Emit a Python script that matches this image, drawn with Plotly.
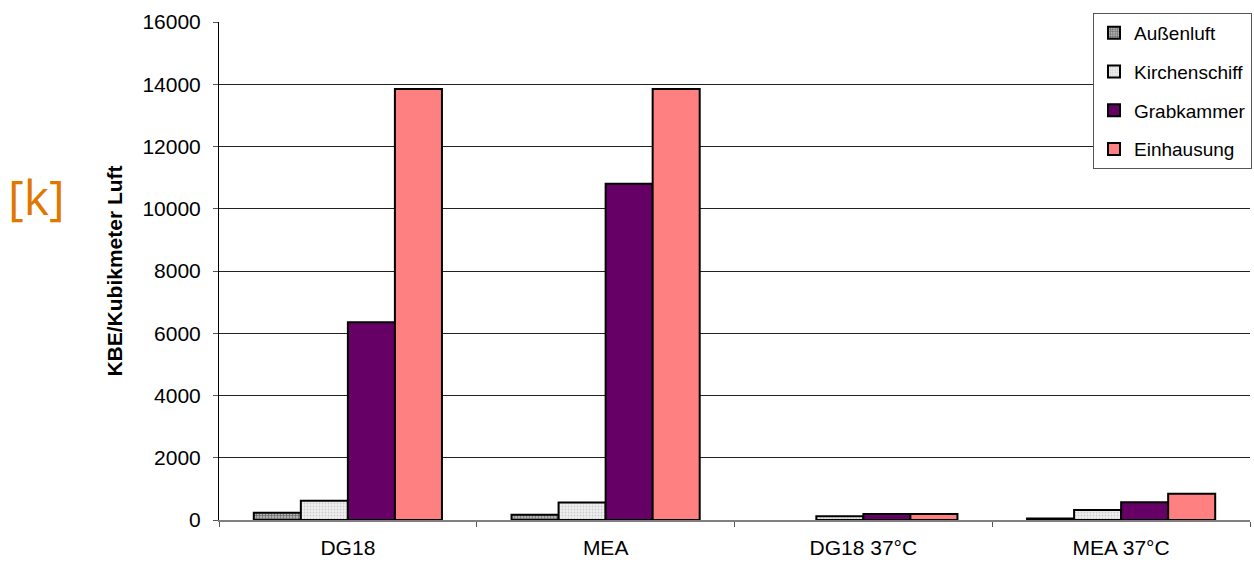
import plotly.graph_objects as go

categories = ["DG18", "MEA", "DG18 37°C", "MEA 37°C"]
aussenluft = [230, 170, None, 50]
kirchenschiff = [620, 560, 120, 320]
grabkammer = [6350, 10800, 190, 570]
einhausung = [13850, 13850, 190, 840]
y_ticks = [0, 2000, 4000, 6000, 8000, 10000, 12000, 14000, 16000]

series = [
    ("Außenluft", aussenluft, dict(color="#9a9a9a", pattern=dict(shape="+", fgcolor="#222222", bgcolor="#b0b0b0", size=3, solidity=0.4))),
    ("Kirchenschiff", kirchenschiff, dict(color="#e6e6e6", pattern=dict(shape=".", fgcolor="#a8a8a8", bgcolor="#f0f0f0", size=3, solidity=0.3))),
    ("Grabkammer", grabkammer, dict(color="#660066")),
    ("Einhausung", einhausung, dict(color="#ff8080")),
]

fig = go.Figure()
for i, (name, vals, m) in enumerate(series):
    m = dict(m)
    m["line"] = dict(color="#000000", width=2)
    fig.add_trace(go.Bar(name=name, x=categories, y=vals, marker=m, legendgroup=f"g{i}"))

font_family = "Liberation Sans, Arial, sans-serif"
fig.update_layout(
    width=1254, height=562,
    margin=dict(l=219, r=3, t=22, b=42),
    paper_bgcolor="white", plot_bgcolor="white",
    barmode="group", bargap=0.27, bargroupgap=0,
    font=dict(family=font_family, size=21, color="#000000"),
    legend=dict(
        x=(1093 - 219) / 1032, y=1 + (22 - 13) / 498, xanchor="left", yanchor="top",
        bordercolor="#555555", borderwidth=1, bgcolor="white",
        font=dict(size=19), traceorder="grouped", tracegroupgap=11,
        itemsizing="constant",
    ),
    showlegend=True,
)
fig.update_yaxes(
    range=[0, 16000], tickvals=y_ticks, ticktext=[str(v) for v in y_ticks],
    showgrid=True, gridcolor="#222222", gridwidth=1,
    showline=True, linecolor="#000000", linewidth=1,
    ticks="outside", ticklen=5, tickcolor="#555555",
    zeroline=False, tickfont=dict(size=21), ticklabelstandoff=8,
    title=dict(text="<b>KBE/Kubikmeter Luft</b>", font=dict(size=21), standoff=14),
)
fig.update_xaxes(
    showline=True, linecolor="#808080", linewidth=2,
    ticks="outside", ticklen=5, tickcolor="#555555", tickson="boundaries",
    tickfont=dict(size=21), ticklabelstandoff=8,
)
fig.add_annotation(
    text="[k]", xref="paper", yref="paper",
    x=(36 - 219) / 1032, y=1 - (197 - 22) / 498, xanchor="center", yanchor="middle",
    showarrow=False, font=dict(size=48, color="#E07800", family="Open Sans, sans-serif"),
)
fig.write_html("out.html")
